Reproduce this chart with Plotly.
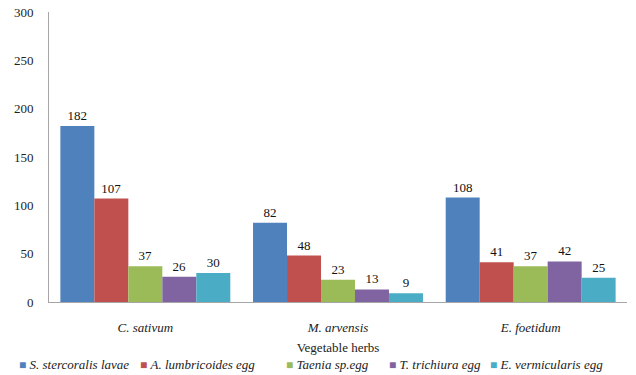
import plotly.graph_objects as go

herbs = ["C. sativum", "M. arvensis", "E. foetidum"]
series_names = [
    "S. stercoralis lavae",
    "A. lumbricoides egg",
    "Taenia sp.egg",
    "T. trichiura egg",
    "E. vermicularis egg",
]
s_stercoralis = [182, 82, 108]
a_lumbricoides = [107, 48, 41]
taenia = [37, 23, 37]
t_trichiura = [26, 13, 42]
e_vermicularis = [30, 9, 25]
y_ticks = [0, 50, 100, 150, 200, 250, 300]

colors = ["#4F81BD", "#C0504D", "#9BBB59", "#8064A2", "#4BACC6"]
all_values = [s_stercoralis, a_lumbricoides, taenia, t_trichiura, e_vermicularis]

serif = "Liberation Serif"
fs = 13

fig = go.Figure()
for name, vals, col in zip(series_names, all_values, colors):
    fig.add_trace(go.Bar(
        x=herbs, y=vals, name=name,
        marker=dict(color=col, line=dict(width=0)),
        text=[str(v) for v in vals], textposition="outside",
        textfont=dict(family=serif, size=fs, color="#111"),
        cliponaxis=False, showlegend=False,
    ))

# Compact legend row below the axis title: coloured square + italic name
legend_left_px = [17, 138, 284, 387, 488]
plot_left, plot_width = 49, 578
for name, col, px in zip(series_names, colors, legend_left_px):
    fig.add_annotation(
        xref="paper", yref="paper",
        x=(px - plot_left) / plot_width, y=-0.216,
        xanchor="left", yanchor="middle", showarrow=False,
        text=f"<span style='color:{col};font-size:12px'>■</span> <i>{name}</i>",
        font=dict(family=serif, size=fs, color="#222"),
    )

fig.update_layout(
    width=636, height=375,
    margin=dict(l=49, r=9, t=12, b=73),
    paper_bgcolor="white", plot_bgcolor="white",
    barmode="group", bargap=0.118, bargroupgap=0,
    font=dict(family=serif, size=fs, color="#222"),
    showlegend=False,
    xaxis=dict(
        showline=True, linecolor="#a6a6a6", linewidth=1,
        ticks="", ticklabelstandoff=13, automargin=False,
        tickfont=dict(family=serif, size=fs, style="italic", color="#222"),
        title=dict(text="Vegetable herbs", font=dict(family=serif, size=fs, color="#222"), standoff=9),
    ),
    yaxis=dict(
        range=[0, 300], tickvals=y_ticks, showgrid=False, zeroline=False,
        showline=True, linecolor="#a6a6a6", linewidth=1,
        ticks="", ticklabelstandoff=12, automargin=False,
        tickfont=dict(family=serif, size=fs, color="#222"),
    ),
)

fig.write_html("out.html")
